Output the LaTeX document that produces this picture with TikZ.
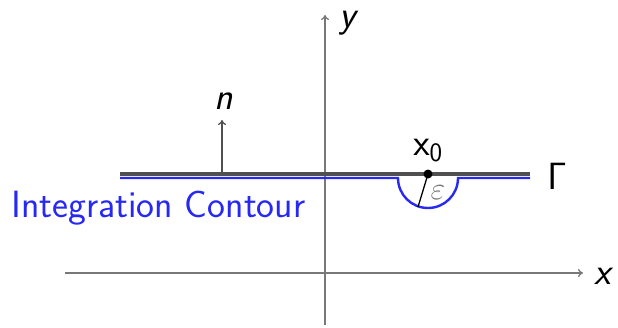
\RequirePackage{fix-cm}
\documentclass[tikz,border=0pt]{standalone}
\usetikzlibrary{arrows.meta}
\definecolor{cblue}{RGB}{40,40,245}
\definecolor{axgray}{RGB}{120,120,120}
\definecolor{gline}{RGB}{80,80,80}
\begin{document}
\begin{tikzpicture}[x=1pt,y=-1pt,
  axis/.style={draw=axgray,line width=1.3pt,-{To[length=5pt,width=8pt]}},
  lbl/.style={font=\fontsize{38}{40}\selectfont\sffamily,inner sep=0pt},
  gammaline/.style={draw=gline,line width=3.2pt},
  contour/.style={draw=cblue,line width=2.4pt}]
\useasboundingbox (0,0) rectangle (618,327);
% axes
\coordinate (ys) at (325,325);
\coordinate (ye) at (325,15);
\coordinate (xs) at (65,273);
\coordinate (xe) at (583,273);
\draw[axis] (ys) -- (ye);
\draw[axis] (xs) -- (xe);
\node[lbl] (ylab) at (348,23) {\itshape y};
\node[lbl] (xlab) at (603,276) {\itshape x};
% contour
\coordinate (gl) at (120,174);
\coordinate (gr) at (530,174);
\coordinate (bl) at (120,178);
\coordinate (br) at (530,178);
\coordinate (x0) at (428,174);
\draw[contour] (bl) -- (398,178) arc[start angle=180,end angle=0,radius=30] -- (br);
\draw[gammaline] (gl) -- (gr);
\fill (x0) circle (4.5pt);
\coordinate (rend) at (418,207);
\draw[line width=1.3pt] (x0) -- (rend);
\node[lbl,font=\fontsize{32}{34}\selectfont,text=axgray] (eps) at (438,193) {$\varepsilon$};
\node[lbl] (x0lab) at (428,150) {$\mathsf{x}_{\mathsf{0}}$};
\node[lbl] (gam) at (557,176) {$\mathsf{\Gamma}$};
% normal
\coordinate (nb) at (222,174);
\coordinate (nt) at (222,120);
\draw[draw=gline,line width=1.3pt,-{To[length=5pt,width=8pt]}] (nb) -- (nt);
\node[lbl] (nlab) at (224,101) {\itshape n};
\node[lbl,text=cblue,anchor=west] (ic) at (11,208) {Integration Contour};
\end{tikzpicture}
\end{document}
